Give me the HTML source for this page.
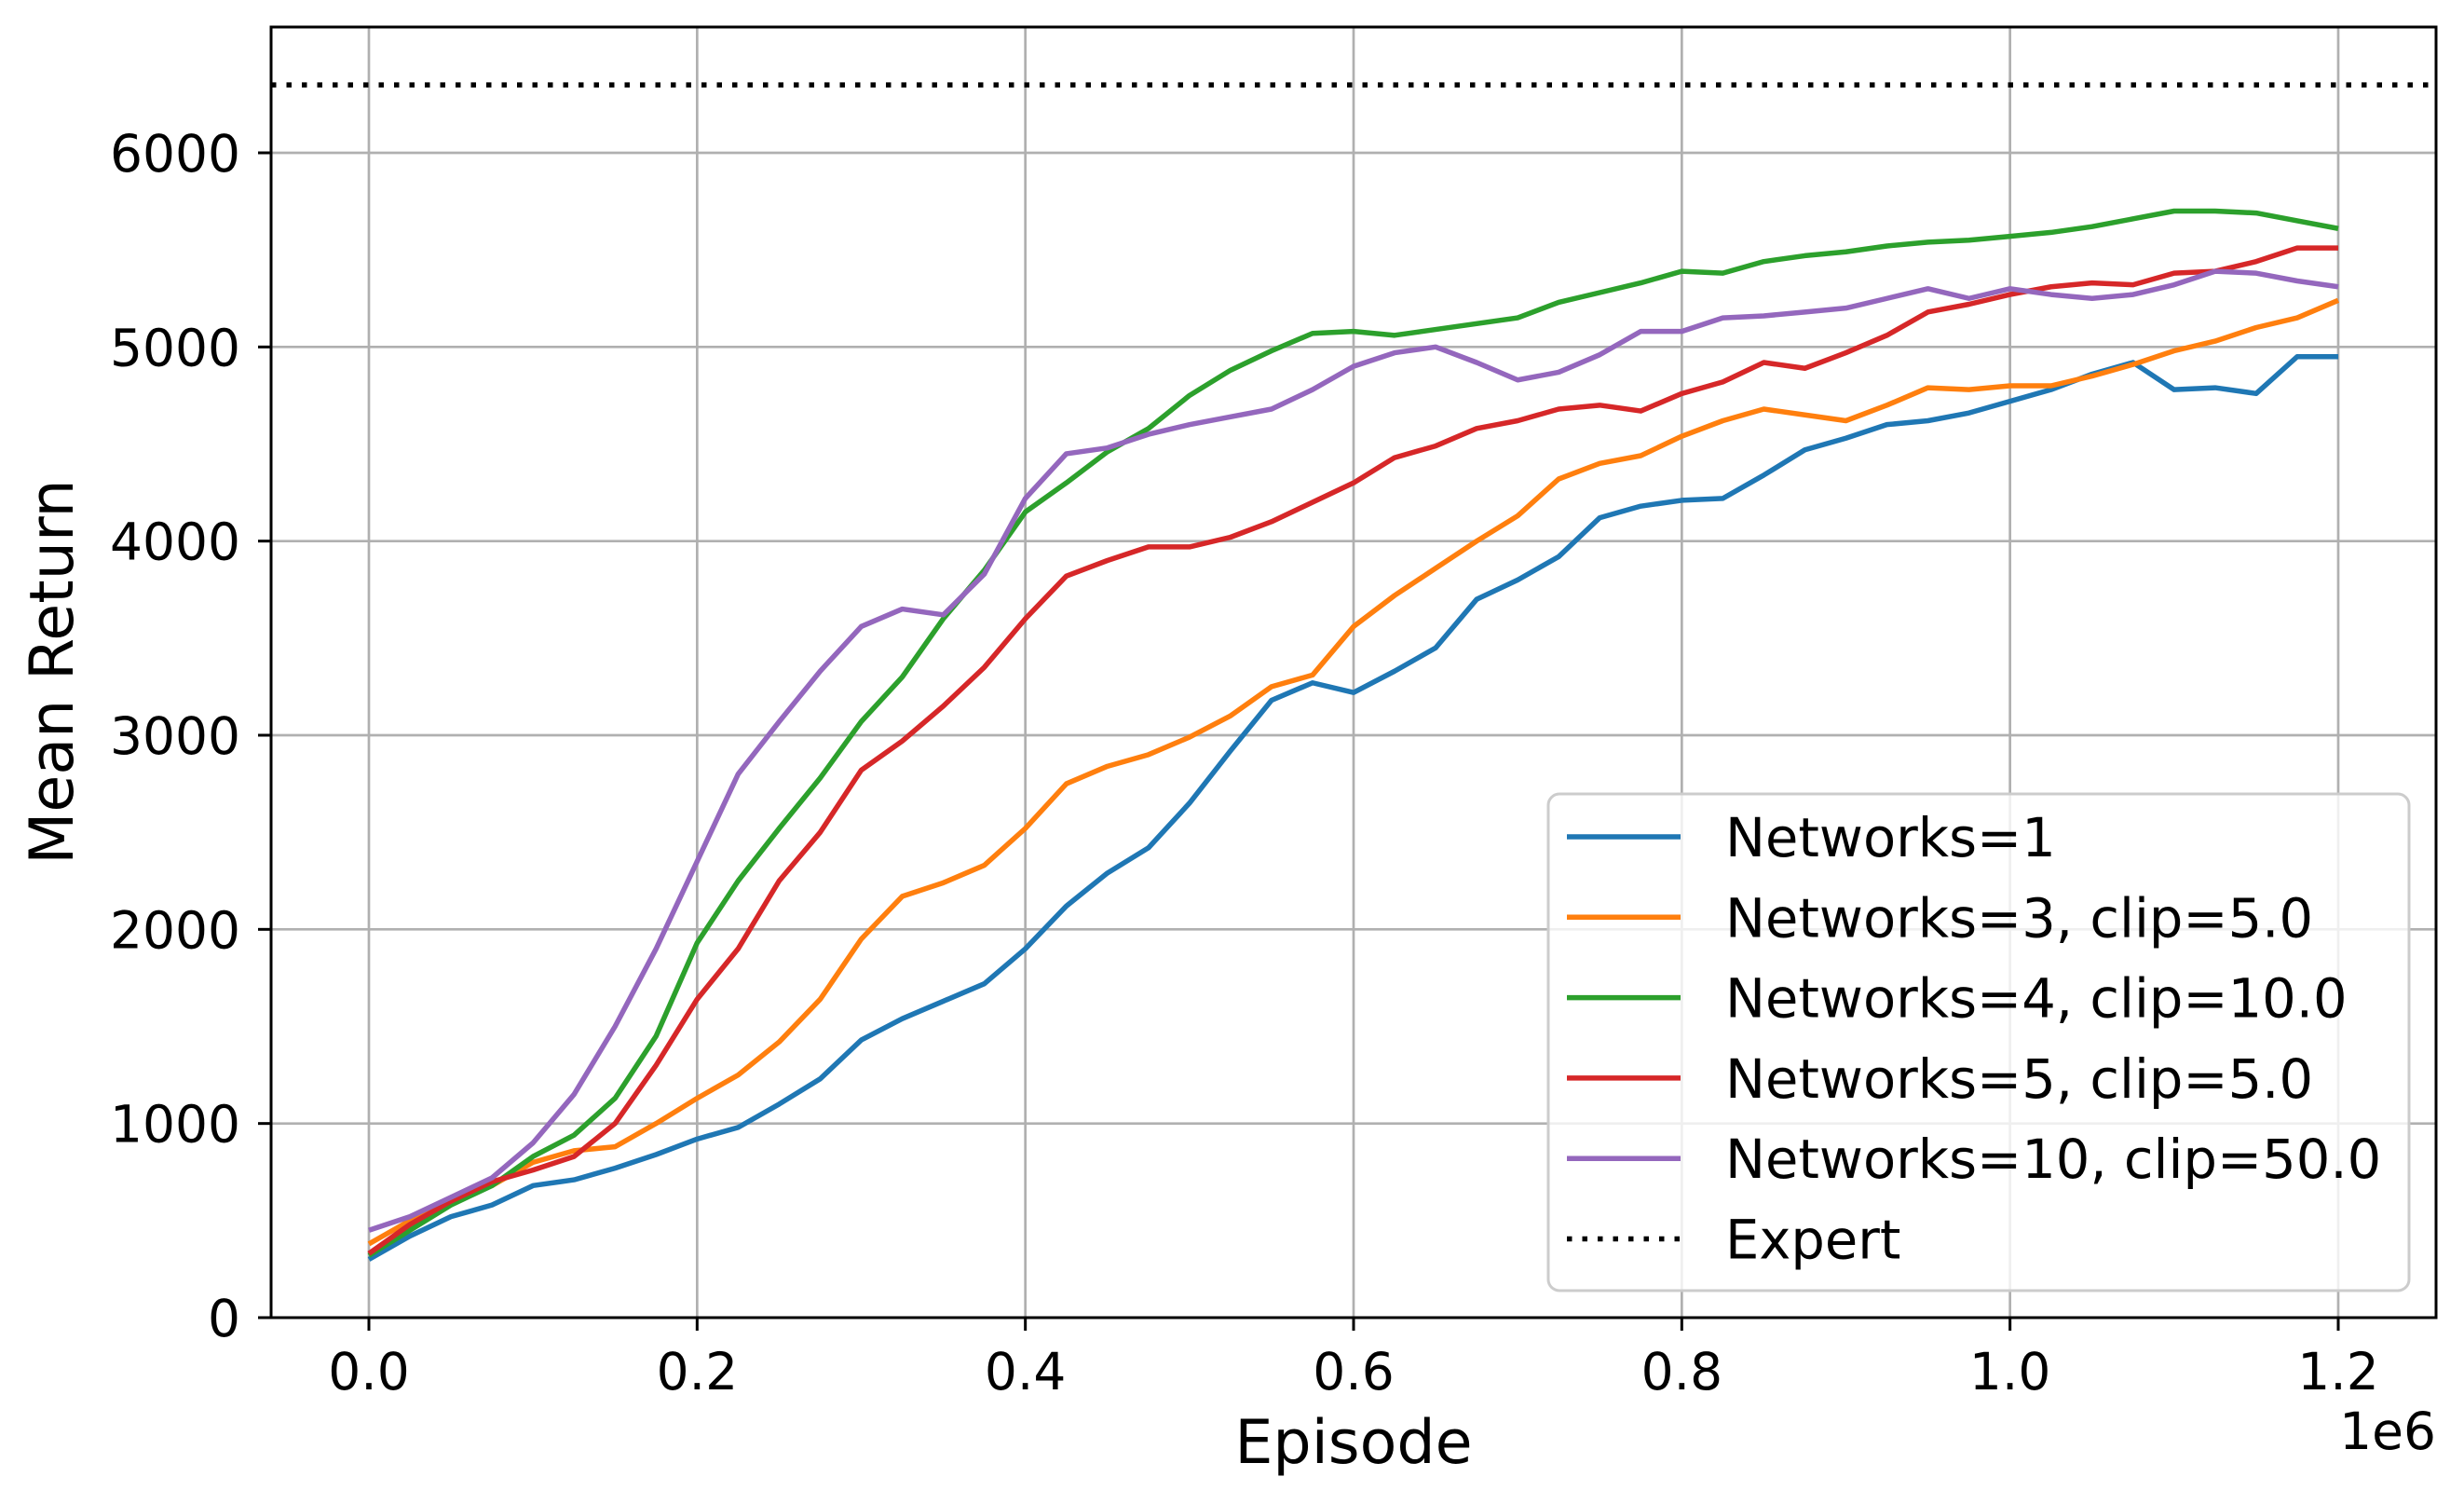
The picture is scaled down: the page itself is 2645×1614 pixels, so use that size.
<!DOCTYPE html>
<html><head><meta charset="utf-8"><style>
html,body{margin:0;padding:0;background:#fff;}
svg{display:block;font-family:"DejaVu Sans","Liberation Sans",sans-serif;}
</style></head><body>
<svg id="chart" width="2645" height="1614" viewBox="0 0 2645 1614" xmlns="http://www.w3.org/2000/svg">
<rect width="2645" height="1614" fill="#fff"/>
<g id="grid"></g>
<g id="series"></g>
<rect x="291" y="29" width="2324" height="1385" fill="none" stroke="#000" stroke-width="3"/>
<g id="ticks"></g>
<text x="1453" y="1570" font-size="65" text-anchor="middle">Episode</text>
<text x="2615" y="1555" font-size="55" text-anchor="end">1e6</text>
<text transform="translate(78,721) rotate(-90)" font-size="65" text-anchor="middle">Mean Return</text>
<g id="legend"></g>
</svg>
<script>
const xs = [0,0.025,0.05,0.075,0.1,0.125,0.15,0.175,0.2,0.225,0.25,0.275,0.3,0.325,0.35,0.375,0.4,0.425,0.45,0.475,0.5,0.525,0.55,0.575,0.6,0.625,0.65,0.675,0.7,0.725,0.75,0.775,0.8,0.825,0.85,0.875,0.9,0.925,0.95,0.975,1.0,1.025,1.05,1.075,1.1,1.125,1.15,1.175,1.2];
const net1 = [300,420,520,580,680,710,770,840,920,980,1100,1230,1430,1540,1630,1720,1900,2120,2290,2420,2650,2920,3180,3270,3220,3330,3450,3700,3800,3920,4120,4180,4210,4220,4340,4470,4530,4600,4620,4660,4720,4780,4860,4920,4780,4790,4760,4950,4950];
const net3 = [380,500,600,680,800,860,880,1000,1130,1250,1420,1640,1950,2170,2240,2330,2520,2750,2840,2900,2990,3100,3250,3310,3560,3720,3860,4000,4130,4320,4400,4440,4540,4620,4680,4650,4620,4700,4790,4780,4800,4800,4850,4910,4980,5030,5100,5150,5240];
const net4 = [320,450,580,680,830,940,1130,1450,1930,2250,2520,2780,3070,3300,3600,3850,4150,4300,4460,4580,4750,4880,4980,5070,5080,5060,5090,5120,5150,5230,5280,5330,5390,5380,5440,5470,5490,5520,5540,5550,5570,5590,5620,5660,5700,5700,5690,5650,5610];
const net5 = [330,480,600,700,760,830,1000,1300,1640,1900,2250,2500,2820,2970,3150,3350,3600,3820,3900,3970,3970,4020,4100,4200,4300,4430,4490,4580,4620,4680,4700,4670,4760,4820,4920,4890,4970,5060,5180,5220,5270,5310,5330,5320,5380,5390,5440,5510,5510];
const net10 = [450,520,620,720,900,1150,1500,1900,2350,2800,3070,3330,3560,3650,3620,3830,4220,4450,4480,4550,4600,4640,4680,4780,4900,4970,5000,4920,4830,4870,4960,5080,5080,5150,5160,5180,5200,5250,5300,5250,5300,5270,5250,5270,5320,5390,5380,5340,5310];
const expertValue = 6350;
const xTicks = [0,0.2,0.4,0.6,0.8,1.0,1.2];
const xTickLabels = ["0.0","0.2","0.4","0.6","0.8","1.0","1.2"];
const yTicks = [0,1000,2000,3000,4000,5000,6000];
const seriesNames = ["Networks=1","Networks=3, clip=5.0","Networks=4, clip=10.0","Networks=5, clip=5.0","Networks=10, clip=50.0"];

const NS="http://www.w3.org/2000/svg";
const X=v=>396+(v/1.2)*(2510-396);
const Y=v=>1414-v*(1250/6000);
function mk(tag,attrs,parent){const e=document.createElementNS(NS,tag);for(const k in attrs)e.setAttribute(k,attrs[k]);parent.appendChild(e);return e;}
const grid=document.getElementById('grid'),ticks=document.getElementById('ticks'),ser=document.getElementById('series'),leg=document.getElementById('legend');
xTicks.forEach((t,i)=>{
  const g=mk('line',{x1:X(t),x2:X(t),y1:29,y2:1414,stroke:'#b0b0b0','stroke-width':2.7},grid);
  
  
  const tk=mk('line',{x1:X(t),x2:X(t),y1:1414,y2:1428,stroke:'#000','stroke-width':3},ticks);
  
  
  const tx=mk('text',{x:X(t),y:1491,'font-size':55,'text-anchor':'middle'},ticks);
  tx.textContent=xTickLabels[i];
  
  
});
yTicks.forEach(t=>{
  const g=mk('line',{x1:291,x2:2615,y1:Y(t),y2:Y(t),stroke:'#b0b0b0','stroke-width':2.7},grid);
  
  
  const tk=mk('line',{x1:277,x2:291,y1:Y(t),y2:Y(t),stroke:'#000','stroke-width':3},ticks);
  
  
  const tx=mk('text',{x:258,y:Y(t)+20,'font-size':55,'text-anchor':'end'},ticks);
  tx.textContent=String(t);
  
  
});
const colors=['#1f77b4','#ff7f0e','#2ca02c','#d62728','#9467bd'];
const data=[net1,net3,net4,net5,net10];
const slugs=['networks-1','networks-3','networks-4','networks-5','networks-10'];
data.forEach((d,i)=>{
  const p=mk('polyline',{points:d.map((v,j)=>X(xs[j])+','+Y(v)).join(' '),fill:'none',stroke:colors[i],'stroke-width':5.5,'stroke-linejoin':'round'},ser);
  
  
});
const ex=mk('line',{x1:291,x2:2615,y1:Y(expertValue),y2:Y(expertValue),stroke:'#000','stroke-width':5.5,'stroke-dasharray':'5.5 11'},ser);


// legend
const box=mk('rect',{x:1662,y:852,width:924,height:533,rx:12,fill:'#fff','fill-opacity':0.8,stroke:'#cccccc','stroke-width':3},leg);


const names=seriesNames.concat(['Expert']);
names.forEach((n,i)=>{
  const y=898+i*86.3;
  const attrs={x1:1682,x2:1804,y1:y,y2:y,stroke:i<5?colors[i]:'#000','stroke-width':5.5};
  if(i===5)attrs['stroke-dasharray']='5.5 11';
  const l=mk('line',attrs,leg);
  
  
  const t=mk('text',{x:1852,y:y+21,'font-size':57.5},leg);
  t.textContent=n;
  
  
});
</script>
</body></html>
